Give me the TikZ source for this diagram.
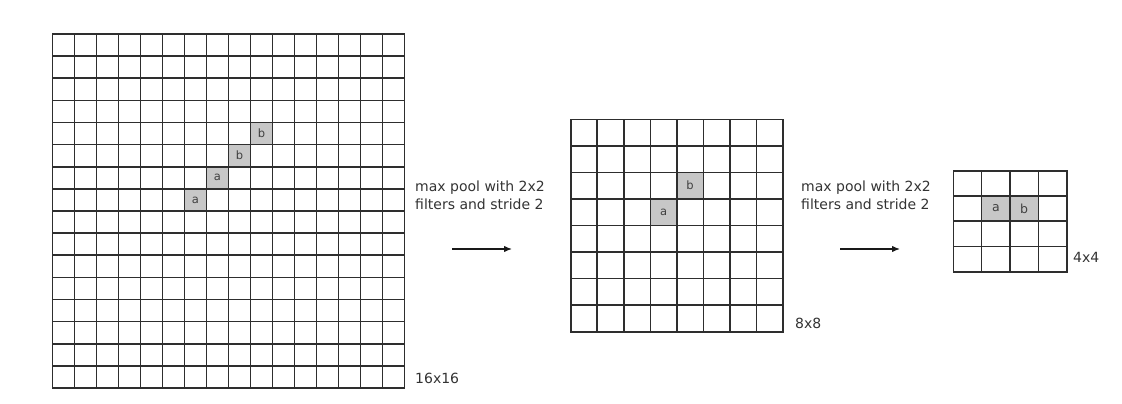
\documentclass[tikz,border=0pt]{standalone}
\usepackage{fontspec}
\setmainfont{DejaVu Sans}
\usetikzlibrary{arrows.meta}
\begin{document}
\begin{tikzpicture}[x=1pt,y=-1pt,
  gridline/.style={line width=1.6pt, draw=black!82, line cap=rect},
  shadecell/.style={fill=black!22},
  celltext/.style={font=\fontsize{11.5}{11.5}\selectfont, text=black!75, inner sep=0},
  bigcelltext/.style={font=\fontsize{12.5}{12.5}\selectfont, text=black!75, inner sep=0},
  sizelabel/.style={font=\fontsize{14}{18}\selectfont, text=black!80, anchor=base west, inner sep=0},
  caption/.style={font=\fontsize{14}{18}\selectfont, text=black!80, align=left, anchor=base west, inner sep=0},
  arr/.style={-{Latex[length=8pt,width=6.5pt]}, line width=1.3pt, draw=black!90}
]
\useasboundingbox (0,0) rectangle (1122,404);

% ---------- 16x16 grid ----------
\foreach \c/\r/\t in {6/7/a,7/6/a,8/5/b,9/4/b} {
  \fill[shadecell] ({52.5+\c*22},{34+\r*22.125}) rectangle ++(22,22.125);
  \node[celltext] (ga-\c-\r) at ({52.5+(\c+0.5)*22},{34+(\r+0.5)*22.125}) {\t};
}
\foreach \i in {0,...,16} {
  \draw[gridline] ({52.5+\i*22},34) -- ({52.5+\i*22},388);
  \draw[gridline] (52.5,{34+\i*22.125}) -- (404.5,{34+\i*22.125});
}
\node[sizelabel] (l16) at (415,383) {16x16};

% ---------- 8x8 grid ----------
\foreach \c/\r/\t in {3/3/a,4/2/b} {
  \fill[shadecell] ({570.7+\c*26.54},{119.3+\r*26.55}) rectangle ++(26.54,26.55);
  \node[celltext] (gb-\c-\r) at ({570.7+(\c+0.5)*26.54},{119.3+(\r+0.5)*26.55}) {\t};
}
\foreach \i in {0,...,8} {
  \draw[gridline] ({570.7+\i*26.54},119.3) -- ({570.7+\i*26.54},331.7);
  \draw[gridline] (570.7,{119.3+\i*26.55}) -- (783,{119.3+\i*26.55});
}
\node[sizelabel] (l8) at (795,328) {8x8};

% ---------- 4x4 grid ----------
\foreach \c/\r/\t in {1/1/a,2/1/b} {
  \fill[shadecell] ({953.3+\c*28.35},{170.7+\r*25.25}) rectangle ++(28.35,25.25);
  \node[bigcelltext] (gc-\c-\r) at ({953.3+(\c+0.5)*28.35},{170.7+(\r+0.5)*25.25}) {\t};
}
\foreach \i in {0,...,4} {
  \draw[gridline] ({953.3+\i*28.35},170.7) -- ({953.3+\i*28.35},271.7);
  \draw[gridline] (953.3,{170.7+\i*25.25}) -- (1066.7,{170.7+\i*25.25});
}
\node[sizelabel] (l4) at (1073,262) {4x4};

% ---------- captions and arrows ----------
\node[caption] (cap1) at (415,209) {max pool with 2x2\\filters and stride 2};
\node[caption] (cap2) at (801,209) {max pool with 2x2\\filters and stride 2};

\coordinate (a1s) at (452,249);
\coordinate (a1e) at (512,249);
\coordinate (a2s) at (840,249);
\coordinate (a2e) at (900,249);
\draw[arr] (a1s) -- (a1e);
\draw[arr] (a2s) -- (a2e);
\end{tikzpicture}
\end{document}
